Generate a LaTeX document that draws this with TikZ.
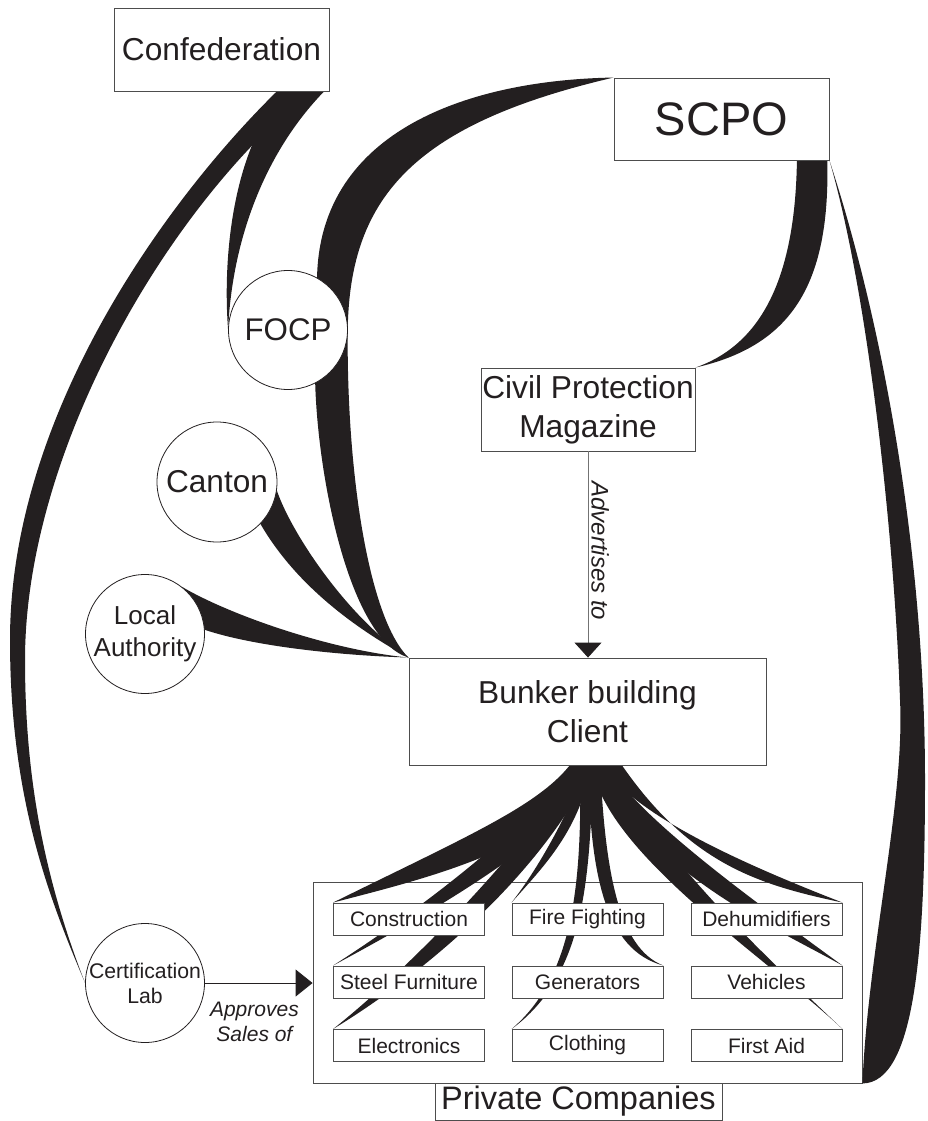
\documentclass[tikz,border=0pt]{standalone}
\usepackage{fontspec}
\setmainfont{Liberation Sans}
\usetikzlibrary{arrows.meta}
\definecolor{ink}{HTML}{231F20}
\definecolor{boxline}{HTML}{4D4D4D}
\pgfdeclarelayer{bottom}
\pgfdeclarelayer{ribbons}
\pgfsetlayers{bottom,ribbons,main}
\newcommand{\zbox}[1]{\makebox[0pt]{#1}}
\begin{document}
\begin{tikzpicture}[x=1pt,y=-1pt,
  box/.style={draw=boxline, line width=0.9pt, fill=white, inner sep=0pt, align=center, text=ink},
  circ/.style={circle, draw=ink, line width=0.8pt, fill=white, inner sep=0pt, minimum size=119pt, align=center, text=ink},
  comp/.style={box, minimum width=151pt, minimum height=32pt, font=\fontsize{21}{25}\selectfont},
  ribbon/.style={fill=ink},
  bigtext/.style={font=\fontsize{31.7}{39}\selectfont},
  advline/.style={line width=0.9pt, draw=black!55, -{Triangle[length=15pt,width=27pt,color=ink]}},
  certline/.style={line width=0.9pt, draw=ink, -{Triangle[length=17pt,width=27pt,color=ink]}},
  advlabel/.style={rotate=-90, anchor=south, inner sep=3pt, pos=0.483, font=\fontsize{24}{29}\selectfont\itshape, text=ink},
  approve/.style={below=15pt, pos=0.46, align=center, font=\fontsize{21}{25}\selectfont\itshape, text=ink}
]
\useasboundingbox (0,0) rectangle (927,1121);

% ---------- nodes ----------
\begin{pgfonlayer}{bottom}
\node[box, minimum width=549pt, minimum height=201pt] (private) at (587.5,982.5) {};
\end{pgfonlayer}

\node[box, bigtext, minimum width=215pt, minimum height=83pt] (confed) at (221.5,49.5) {Confederation};
\node[box, font=\fontsize{47}{56}\selectfont, minimum width=215pt, minimum height=82pt] (scpo) at (721.5,119) {SCPO};
\node[circ, font=\fontsize{31.3}{38}\selectfont] (focp) at (288,330) {FOCP};
\node[circ, font=\fontsize{31.6}{38}\selectfont, minimum size=120pt] (canton) at (217,482) {Canton};
\node[circ, font=\fontsize{26}{31.6}\selectfont] (local) at (145,634) {\zbox{Local}\\\zbox{Authority}};
\node[box, bigtext, minimum width=214pt, minimum height=83pt] (mag) at (588,409.5) {Civil Protection\\Magazine};
\node[box, bigtext, minimum width=357pt, minimum height=107pt] (bunker) at (587.5,711.5) {Bunker building\\Client};
\node[circ, font=\fontsize{21.2}{25}\selectfont] (cert) at (145,983) {\zbox{Certification}\\\zbox{Lab}};

\node[comp] (constr) at (409,919) {Construction};
\node[comp] (fire) at (587.5,919) {Fire Fighting};
\node[comp] (dehum) at (766.5,919) {Dehumidifiers};
\node[comp] (steel) at (409,982) {Steel Furniture};
\node[comp] (gen) at (587.5,982) {Generators};
\node[comp] (veh) at (766.5,982) {Vehicles};
\node[comp] (elec) at (409,1045.5) {Electronics};
\node[comp] (cloth) at (587.5,1045.5) {Clothing};
\node[comp] (aid) at (766.5,1045.5) {First Aid};

\node[box, font=\fontsize{32.5}{39}\selectfont, minimum width=287pt, minimum height=37pt] (privlabel) at (578.5,1101.5) {Private Companies};

% ---------- ribbons ----------
\begin{pgfonlayer}{ribbons}
% Confederation -> Certification Lab
\fill[ribbon] ([xshift=61.5pt,yshift=6pt]confed.south) .. controls (173,191) and (10,410) .. (10,640)
  .. controls (10,800) and (50,900) .. (cert.west)
  .. controls (45,880) and (25,780) .. (25,660)
  .. controls (25,450) and (170,200) .. ([xshift=96.5pt,yshift=6pt]confed.south) -- cycle;
% Confederation -> FOCP
\fill[ribbon] ([xshift=68.5pt,yshift=6pt]confed.south) .. controls (235,140) and (222,250) .. (focp.west)
  .. controls (232,240) and (265,150) .. ([xshift=106.5pt,yshift=4pt]confed.south) -- cycle;
% SCPO -> FOCP
\fill[ribbon] (scpo.north west) .. controls (470,80) and (320,130) .. (focp.61) -- (focp.center) -- (focp.-5)
  .. controls (348,200) and (410,125) .. (scpo.north west) -- cycle;
% FOCP -> Bunker client
\fill[ribbon] (focp.center) -- (focp.-63) .. controls (318,480) and (350,640) .. (bunker.north west)
  .. controls (370,620) and (347,480) .. (focp.-5) -- cycle;
% SCPO -> Magazine
\fill[ribbon] ([xshift=105.5pt,yshift=10pt]scpo.south) .. controls (832,280) and (795,345) .. (mag.north east)
  .. controls (760,345) and (797,280) .. ([xshift=75.5pt,yshift=10pt]scpo.south) -- cycle;
% SCPO -> Private companies
\fill[ribbon] (scpo.south east) .. controls (885,330) and (925,560) .. (925,780)
  .. controls (925,950) and (915,1083) .. (private.south east)
  .. controls (868,950) and (905,800) .. (900,700)
  .. controls (895,550) and (870,300) .. (scpo.south east) -- cycle;
% Canton -> Bunker client
\fill[ribbon] (canton.center) -- (canton.-8) .. controls (292,535) and (350,620) .. (bunker.north west)
  .. controls (340,620) and (290,575) .. (canton.-44) -- cycle;
% Local authority -> Bunker client
\fill[ribbon] (local.center) -- (local.52) .. controls (230,615) and (330,650) .. (bunker.north west)
  .. controls (330,655) and (250,645) .. (local.4) -- cycle;
% Bunker client -> companies
\fill[ribbon] ([xshift=-15.5pt,yshift=3pt]bunker.south) .. controls (540,805) and (470,835) .. (constr.north west)
  .. controls (440,875) and (560,845) .. ([xshift=12.5pt,yshift=3pt]bunker.south) -- cycle;
\fill[ribbon] ([xshift=-12.5pt,yshift=3pt]bunker.south) .. controls (530,825) and (420,910) .. (steel.north west)
  .. controls (455,900) and (570,830) .. ([xshift=17.5pt,yshift=3pt]bunker.south) -- cycle;
\fill[ribbon] ([xshift=-9.5pt,yshift=3pt]bunker.south) .. controls (540,830) and (420,960) .. (elec.north west)
  .. controls (430,970) and (545,870) .. ([xshift=7.5pt,yshift=3pt]bunker.south) -- cycle;
\fill[ribbon] ([xshift=-2.5pt,yshift=3pt]bunker.south) .. controls (580,790) and (545,860) .. (fire.north west)
  .. controls (545,865) and (580,830) .. ([xshift=4.5pt,yshift=3pt]bunker.south) -- cycle;
\fill[ribbon] ([xshift=-7.5pt,yshift=3pt]bunker.south) .. controls (582,880) and (575,975) .. (cloth.north west)
  .. controls (585,975) and (590,880) .. ([xshift=5.5pt,yshift=3pt]bunker.south) -- cycle;
\fill[ribbon] ([xshift=0.5pt,yshift=3pt]bunker.south) .. controls (590,875) and (605,950) .. (gen.north east)
  .. controls (618,948) and (605,870) .. ([xshift=12.5pt,yshift=3pt]bunker.south) -- cycle;
\fill[ribbon] ([xshift=12.5pt,yshift=3pt]bunker.south) .. controls (630,810) and (720,855) .. (dehum.north east)
  .. controls (760,885) and (690,865) .. ([xshift=32.5pt,yshift=3pt]bunker.south) -- cycle;
\fill[ribbon] ([xshift=17.5pt,yshift=3pt]bunker.south) .. controls (640,820) and (760,905) .. (veh.north east)
  .. controls (780,930) and (640,870) .. ([xshift=10.5pt,yshift=3pt]bunker.south) -- cycle;
\fill[ribbon] ([xshift=24.5pt,yshift=3pt]bunker.south) .. controls (660,860) and (770,960) .. (aid.north east)
  .. controls (770,960) and (600,850) .. ([xshift=4.5pt,yshift=3pt]bunker.south) -- cycle;
\end{pgfonlayer}

% ---------- arrows ----------
\draw[advline] (mag.south) -- node[advlabel] {Advertises to} (mag.south |- bunker.north);
\draw[certline] (cert.east) -- node[approve] {Approves\\Sales of} (cert.east -| private.west);
\end{tikzpicture}
\end{document}
